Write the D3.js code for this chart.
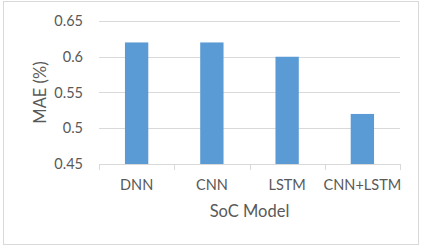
<!DOCTYPE html>
<html>
<head>
<meta charset="utf-8">
<script src="https://cdn.jsdelivr.net/npm/d3@7"></script>
<style>
  body { margin: 0; background: #fff; }
  text { font-family: Lato, "Open Sans", sans-serif; fill: #595959; }
</style>
</head>
<body>
<div id="graf"></div>
<script>
const models = ["DNN", "CNN", "LSTM", "CNN+LSTM"]
const mae = [0.62, 0.62, 0.6, 0.52]
const yTicks = [0.45, 0.5, 0.55, 0.6, 0.65]

const anchoTotal = 423
const altoTotal = 250
const margins = { left: 99, top: 21, right: 23, bottom: 86 }
const ancho = anchoTotal - margins.left - margins.right
const alto = altoTotal - margins.top - margins.bottom

const svg = d3.select("#graf")
  .append("svg")
  .attr("width", anchoTotal)
  .attr("height", altoTotal)

// marco exterior
svg.append("rect")
  .attr("x", 3.5).attr("y", 1.5)
  .attr("width", 415).attr("height", 243)
  .attr("fill", "#fff")
  .attr("stroke", "#d9d9d9")

const g = svg.append("g")
  .attr("transform", `translate(${margins.left}, ${margins.top})`)

const x = d3.scaleBand().domain(models).range([0, ancho]).padding(0)
const y = d3.scaleLinear().domain([0.45, 0.65]).range([alto, 0])

// grid
g.selectAll("line.grid")
  .data(yTicks)
  .join("line")
  .attr("class", "grid")
  .attr("x1", 0).attr("x2", ancho)
  .attr("y1", (d) => Math.round(y(d)) + 0.5)
  .attr("y2", (d) => Math.round(y(d)) + 0.5)
  .attr("stroke", "#d9d9d9")

// etiquetas eje y
g.selectAll("text.ytick")
  .data(yTicks)
  .join("text")
  .attr("class", "ytick")
  .attr("x", -16)
  .attr("y", (d) => y(d))
  .attr("dy", "0.35em")
  .attr("text-anchor", "end")
  .attr("font-size", 14.5)
  .text((d) => d3.format("")(d))

// barras
const bw = x.bandwidth() * 0.31
g.selectAll("rect.bar")
  .data(mae)
  .join("rect")
  .attr("class", "bar")
  .attr("x", (d, i) => x(models[i]) + (x.bandwidth() - bw) / 2)
  .attr("y", (d) => y(d))
  .attr("width", bw)
  .attr("height", (d) => alto - y(d))
  .attr("fill", "#5b9bd5")

// ticks eje x
const bordes = models.map((m) => x(m)).concat([ancho])
g.selectAll("line.xtick")
  .data(bordes)
  .join("line")
  .attr("class", "xtick")
  .attr("x1", (d) => Math.round(d) + 0.5)
  .attr("x2", (d) => Math.round(d) + 0.5)
  .attr("y1", alto)
  .attr("y2", alto + 6)
  .attr("stroke", "#d9d9d9")

g.selectAll("text.xlab")
  .data(models)
  .join("text")
  .attr("class", "xlab")
  .attr("x", (d) => x(d) + x.bandwidth() / 2)
  .attr("y", alto + 26)
  .attr("text-anchor", "middle")
  .attr("font-size", 14.5)
  .text((d) => d)

g.append("text")
  .attr("x", ancho / 2)
  .attr("y", alto + 53)
  .attr("text-anchor", "middle")
  .attr("font-size", 16.5)
  .text("SoC Model")

g.append("g")
  .attr("transform", `translate(${46 - margins.left}, ${alto / 2})`)
  .append("text")
  .attr("transform", "rotate(-90)")
  .attr("text-anchor", "middle")
  .attr("font-size", 16.5)
  .text("MAE (%)")
</script>
</body>
</html>
